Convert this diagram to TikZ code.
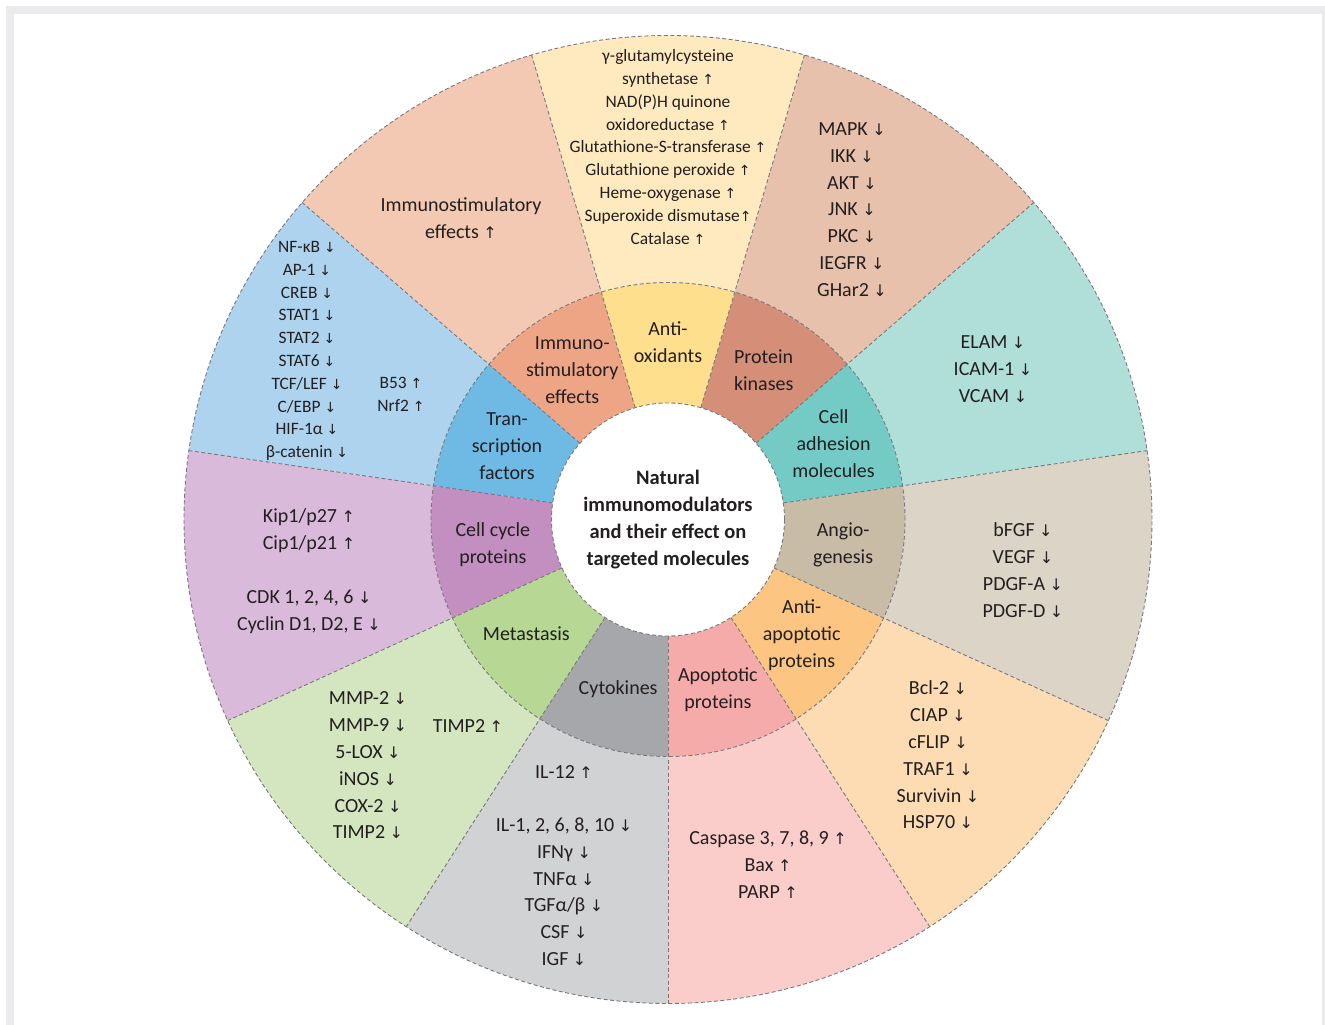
\documentclass[tikz,border=0pt]{standalone}
\usepackage{fontspec}
\setmainfont{Carlito}
\newfontfamily\arrowfont[Scale=0.8]{DejaVu Sans}
\usetikzlibrary{positioning}
\usepackage{xcolor}
\definecolor{inkgray}{RGB}{35,31,32}
\definecolor{dashgray}{RGB}{120,120,124}
\definecolor{framegray}{RGB}{235,235,237}
% inner ring / outer ring colours, one pair per sector
\definecolor{apoIn}{RGB}{245,171,170}
\definecolor{apoOut}{RGB}{250,205,203}
\definecolor{antiapoIn}{RGB}{252,197,129}
\definecolor{antiapoOut}{RGB}{253,219,179}
\definecolor{angioIn}{RGB}{200,188,166}
\definecolor{angioOut}{RGB}{220,212,198}
\definecolor{adhesIn}{RGB}{116,203,197}
\definecolor{adhesOut}{RGB}{176,223,218}
\definecolor{kinaseIn}{RGB}{213,143,121}
\definecolor{kinaseOut}{RGB}{232,193,173}
\definecolor{antioxIn}{RGB}{254,223,141}
\definecolor{antioxOut}{RGB}{255,234,191}
\definecolor{immunoIn}{RGB}{237,165,134}
\definecolor{immunoOut}{RGB}{243,201,179}
\definecolor{transIn}{RGB}{110,186,229}
\definecolor{transOut}{RGB}{174,211,239}
\definecolor{cycleIn}{RGB}{195,143,192}
\definecolor{cycleOut}{RGB}{217,186,218}
\definecolor{metaIn}{RGB}{183,215,148}
\definecolor{metaOut}{RGB}{212,230,192}
\definecolor{cytoIn}{RGB}{166,167,170}
\definecolor{cytoOut}{RGB}{209,210,212}
\newlength{\rcore}
\setlength{\rcore}{116.5pt}
\newlength{\rring}
\setlength{\rring}{237pt}
\newlength{\rwheel}
\setlength{\rwheel}{484pt}
\newcommand{\upar}{{\arrowfont ↑}}
\newcommand{\dnar}{{\arrowfont ↓}}
\tikzset{
  wedge line/.style={draw=dashgray, line width=0.9pt, dash pattern=on 4pt off 2.5pt},
  ringlabel/.style={text=inkgray, align=center, font=\fontsize{20}{27}\selectfont},
  listlabel/.style={text=inkgray, align=center, font=\fontsize{20}{26.8}\selectfont},
  smalllist/.style={text=inkgray, align=center, font=\fontsize{17.4}{22.8}\selectfont},
  corelabel/.style={circle, fill=white, wedge line, minimum size=2\rcore, inner sep=0pt,
    text=inkgray, align=center, font=\fontsize{20.5}{26.7}\selectfont\bfseries},
}

\begin{document}
\begin{tikzpicture}
  \useasboundingbox (-668pt,-505.5pt) rectangle (657pt,519.5pt);
  \fill[framegray] (-662pt,-505.5pt) rectangle (657pt,513.5pt);
  \fill[white] (-654pt,-505.5pt) rectangle (654pt,505.5pt);

  % sectors, counter-clockwise from the bottom
  \foreach \inn/\out [count=\i from 0] in {apoIn/apoOut, antiapoIn/antiapoOut,
      angioIn/angioOut, adhesIn/adhesOut, kinaseIn/kinaseOut, antioxIn/antioxOut,
      immunoIn/immunoOut, transIn/transOut, cycleIn/cycleOut, metaIn/metaOut,
      cytoIn/cytoOut} {
    \pgfmathsetmacro{\a}{-90+\i*360/11}
    \pgfmathsetmacro{\b}{\a+360/11}
    \fill[\inn] (\a:\rcore) arc[start angle=\a, end angle=\b, radius=\rcore]
      -- (\b:\rring) arc[start angle=\b, end angle=\a, radius=\rring] -- cycle;
    \fill[\out] (\a:\rring) arc[start angle=\a, end angle=\b, radius=\rring]
      -- (\b:\rwheel) arc[start angle=\b, end angle=\a, radius=\rwheel] -- cycle;
    \draw[wedge line] (\a:\rcore) -- (\a:\rwheel);
  }
  \draw[wedge line] (0,0) circle[radius=\rring];
  \draw[wedge line] (0,0) circle[radius=\rwheel];

  \node[corelabel] (core) at (0,0)
    {Natural\\immunomodulators\\and their effect on\\targeted molecules};

  % inner ring (label, angle shift, radius)
  \foreach \txt/\da/\r [count=\i from 0] in {{Apoptotic\\proteins}/0/177pt,
      {Anti-\\apoptotic\\proteins}/0/177pt, {Angio-\\genesis}/0/177pt,
      {Cell\\adhesion\\molecules}/0/182pt, {Protein\\kinases}/0/177pt,
      {Anti-\\oxidants}/0/177pt, {Immuno-\\stimulatory\\effects}/0/177pt,
      {Tran-\\scription\\factors}/0/177pt, {Cell cycle\\proteins}/0/177pt,
      {Metastasis}/-2/182pt, {Cytokines}/0/177pt} {
    \node[ringlabel] (ring-\i) at ({-90+(\i+0.5)*360/11+\da}:\r) {\txt};
  }

  % outer ring
  \node[listlabel] (apo-list) at (100pt,-345pt)
    {Caspase 3, 7, 8, 9 \upar\\Bax \upar\\PARP \upar};
  \node[listlabel] (antiapo-list) at (270pt,-235.5pt)
    {Bcl-2 \dnar\\CIAP \dnar\\cFLIP \dnar\\TRAF1 \dnar\\Survivin \dnar\\HSP70 \dnar};
  \node[listlabel] (angio-list) at (355pt,-50.5pt)
    {bFGF \dnar\\VEGF \dnar\\PDGF-A \dnar\\PDGF-D \dnar};
  \node[listlabel] (adhes-list) at (325pt,150.5pt)
    {ELAM \dnar\\ICAM-1 \dnar\\VCAM \dnar};
  \node[listlabel] (kinase-list) at (184pt,310pt)
    {MAPK \dnar\\IKK \dnar\\AKT \dnar\\JNK \dnar\\PKC \dnar\\IEGFR \dnar\\GHar2 \dnar};
  \node[smalllist] (antiox-list) at (0pt,372.5pt)
    {γ-glutamylcysteine\\synthetase \upar\\NAD(P)H quinone\\oxidoreductase \upar\\
     Glutathione-S-transferase \upar\\Glutathione peroxide \upar\\
     Heme-oxygenase \upar\\Superoxide dismutase\upar\\Catalase \upar};
  \node[listlabel] (immuno-list) at (-207pt,301.5pt)
    {Immunostimulatory\\effects \upar};
  \node[smalllist] (trans-list) at (-361pt,168.5pt)
    {NF-κB \dnar\\AP-1 \dnar\\CREB \dnar\\STAT1 \dnar\\STAT2 \dnar\\STAT6 \dnar\\
     TCF/LEF \dnar\\C/EBP \dnar\\HIF-1α \dnar\\β-catenin \dnar};
  \node[smalllist] (trans-up) at (-267pt,125pt) {B53 \upar\\Nrf2 \upar};
  \node[listlabel] (cycle-list) at (-359pt,-51.5pt)
    {Kip1/p27 \upar\\Cip1/p21 \upar\\[27pt]CDK 1, 2, 4, 6 \dnar\\Cyclin D1, D2, E \dnar};
  \node[listlabel] (meta-list) at (-300pt,-246pt)
    {MMP-2 \dnar\\MMP-9 \dnar\\5-LOX \dnar\\iNOS \dnar\\COX-2 \dnar\\TIMP2 \dnar};
  \node[listlabel] (meta-up) at (-200pt,-206.5pt) {TIMP2 \upar};
  \node[listlabel] (cyto-list) at (-104pt,-346pt)
    {IL-12 \upar\\[26.5pt]IL-1, 2, 6, 8, 10 \dnar\\IFNγ \dnar\\TNFα \dnar\\
     TGFα/β \dnar\\CSF \dnar\\IGF \dnar};
\end{tikzpicture}
\end{document}
